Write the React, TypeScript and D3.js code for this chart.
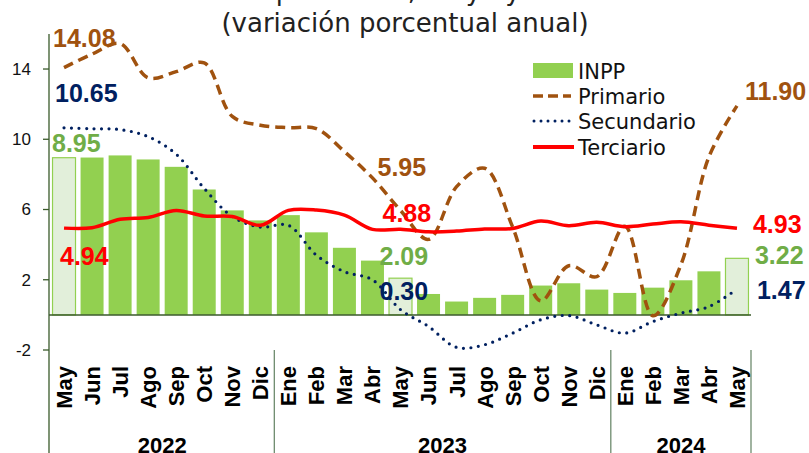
import React from "react";
import * as d3 from "d3";

const months = ["May", "Jun", "Jul", "Ago", "Sep", "Oct", "Nov", "Dic", "Ene", "Feb", "Mar", "Abr", "May", "Jun", "Jul", "Ago", "Sep", "Oct", "Nov", "Dic", "Ene", "Feb", "Mar", "Abr", "May"];
const years = ["2022", "2023", "2024"];
const yearCounts = [8, 12, 5];

const inpp = [8.95, 8.96, 9.08, 8.85, 8.43, 7.14, 5.95, 5.38, 5.68, 4.7, 3.82, 3.09, 2.09, 1.19, 0.76, 0.97, 1.14, 1.67, 1.8, 1.44, 1.25, 1.55, 1.97, 2.48, 3.22];
const primario = [14.08, 14.85, 15.45, 13.5, 13.85, 14.35, 11.3, 10.8, 10.66, 10.6, 9.3, 7.8, 5.95, 4.3, 7.3, 8.35, 5.0, 0.8, 2.8, 2.18, 5.05, -0.05, 2.85, 9.0, 11.9];
const secundario = [10.65, 10.6, 10.55, 10.15, 9.15, 7.2, 5.6, 5.0, 5.1, 3.4, 2.46, 2.0, 0.3, -0.66, -1.85, -1.7, -1.04, -0.28, -0.04, -0.57, -1.04, -0.38, 0.1, 0.47, 1.47];
const terciario = [4.94, 4.96, 5.44, 5.55, 5.95, 5.63, 5.6, 5.1, 5.95, 5.97, 5.68, 4.87, 4.88, 4.73, 4.77, 4.89, 4.92, 5.34, 5.08, 5.27, 5.02, 5.17, 5.3, 5.11, 4.93];
const yTicks = [14, 10, 6, 2, -2];

const GREEN = "#92D050";
const GREEN_TXT = "#70AD47";
const BROWN = "#A0520F";
const NAVY = "#002060";
const RED = "#FF0000";
const AXIS = "#3A5A2A";

const W = 809;
const H = 453;

export default function App() {
  const keys = months.map((m, i) => m + i);
  const x = d3.scaleBand<string>().domain(keys).range([50, 751]).paddingInner(0.18).paddingOuter(0.09);
  const y = d3.scaleLinear().domain([-2, 16]).range([350, 33.9]);
  const cx = (i: number) => (x(keys[i]) as number) + x.bandwidth() / 2;
  const step = x.step();
  const left = 50;

  const line = (vals: number[]) =>
    d3
      .line<number>()
      .x((_, i) => cx(i))
      .y((d) => y(d))
      .curve(d3.curveCatmullRom.alpha(0.5))(vals) as string;

  const highlight = new Set([0, 12, 24]);

  // data labels: value, category index, offset from the point, colour
  const last = months.length - 1;
  const labels = [
    { v: primario[0], i: 0, dx: -11, dy: -21, c: BROWN },
    { v: secundario[0], i: 0, dx: -9, dy: -26, c: NAVY },
    { v: inpp[0], i: 0, dx: -12, dy: -6, c: GREEN_TXT },
    { v: terciario[0], i: 0, dx: -4, dy: 37, c: RED },
    { v: primario[12], i: 12, dx: -23, dy: -34, c: BROWN },
    { v: terciario[12], i: 12, dx: -18, dy: -7, c: RED },
    { v: inpp[12], i: 12, dx: -21, dy: -13, c: GREEN_TXT },
    { v: secundario[12], i: 12, dx: -21, dy: -10, c: NAVY },
    { v: primario[last], i: last, dx: 8, dy: -6, c: BROWN },
    { v: terciario[last], i: last, dx: 16, dy: 5, c: RED },
    { v: inpp[last], i: last, dx: 18, dy: 6, c: GREEN_TXT },
    { v: secundario[last], i: last, dx: 20, dy: 10, c: NAVY },
  ];

  let acc = 0;
  const yearSpans = yearCounts.map((n) => {
    const s = { a: left + acc * step, b: left + (acc + n) * step };
    acc += n;
    return s;
  });

  const legendX = 533;
  const legendY = [71, 96, 121, 147];

  return (
    <svg width={W} height={H} style={{ position: "absolute", left: 0, top: 0 }} fontFamily="Liberation Sans, Arial, sans-serif">
      <rect width={W} height={H} fill="#fff" />
      <text x={405} y={0} textAnchor="middle" fontSize={26} fontFamily="DejaVu Sans" fill="#222">
        INPP por sector, mayo y anual
      </text>
      <text x={405} y={32} textAnchor="middle" fontSize={26} fontFamily="DejaVu Sans" fill="#222">
        (variación porcentual anual)
      </text>

      {/* bars */}
      {inpp.map((v, i) => (
        <rect
          key={i}
          x={x(keys[i])}
          width={x.bandwidth()}
          y={Math.min(y(v), y(0))}
          height={Math.abs(y(v) - y(0))}
          fill={highlight.has(i) ? "#E2EFDA" : GREEN}
          stroke={highlight.has(i) ? GREEN : "none"}
          strokeWidth={1.2}
        />
      ))}

      {/* axes */}
      <line x1={49} x2={751} y1={y(0)} y2={y(0)} stroke={AXIS} strokeWidth={1.5} />
      <line x1={49} x2={49} y1={y(16)} y2={H} stroke={AXIS} strokeWidth={1.3} />
      {yTicks.map((t) => (
        <g key={t}>
          <line x1={43} x2={49} y1={y(t)} y2={y(t)} stroke={AXIS} strokeWidth={1.3} />
          <text x={31} y={y(t)} dy="0.35em" textAnchor="end" fontSize={17} fill="#111">
            {t}
          </text>
        </g>
      ))}
      {yearSpans.map((s, k) => (
        <g key={k}>
          <line x1={s.b} x2={s.b} y1={350} y2={H} stroke="#6E8B6E" strokeWidth={1.3} />
          <text x={(s.a + s.b) / 2} y={453} textAnchor="middle" fontSize={22} fontWeight="bold" fill="#000">
            {years[k]}
          </text>
        </g>
      ))}
      {months.map((m, i) => (
        <text
          key={i}
          transform={`translate(${cx(i)},366) rotate(-90)`}
          dy="0.36em"
          textAnchor="end"
          fontSize={22}
          fontWeight="bold"
          fill="#000"
        >
          {m}
        </text>
      ))}

      {/* lines */}
      <path d={line(primario)} fill="none" stroke={BROWN} strokeWidth={3.5} strokeDasharray="10 6" />
      <path d={line(secundario)} fill="none" stroke={NAVY} strokeWidth={3.2} strokeDasharray="0 7.5" strokeLinecap="round" />
      <path d={line(terciario)} fill="none" stroke={RED} strokeWidth={3.5} />

      {/* legend */}
      <rect x={legendX} y={legendY[0] - 8} width={40} height={15} fill={GREEN} />
      <line x1={legendX} x2={legendX + 38} y1={legendY[1]} y2={legendY[1]} stroke={BROWN} strokeWidth={3.5} strokeDasharray="10 5" />
      <line x1={legendX + 1} x2={legendX + 38} y1={legendY[2]} y2={legendY[2]} stroke={NAVY} strokeWidth={3} strokeDasharray="0 7" strokeLinecap="round" />
      <line x1={legendX} x2={legendX + 41} y1={legendY[3]} y2={legendY[3]} stroke={RED} strokeWidth={4} />
      {["INPP", "Primario", "Secundario", "Terciario"].map((t, k) => (
        <text key={t} x={578} y={legendY[k]} dy="0.36em" fontSize={21} fontFamily="DejaVu Sans" fill="#111">
          {t}
        </text>
      ))}

      {/* data labels */}
      {labels.map((l, k) => (
        <text key={k} x={cx(l.i) + l.dx} y={y(l.v) + l.dy} fontSize={25} fontWeight="bold" fill={l.c}>
          {l.v.toFixed(2)}
        </text>
      ))}
    </svg>
  );
}
